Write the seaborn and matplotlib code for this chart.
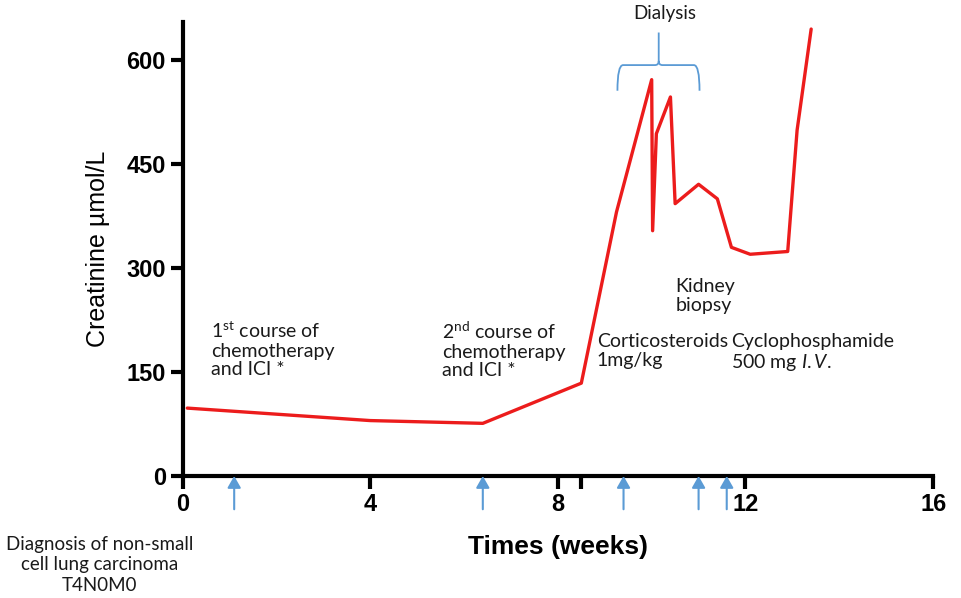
import pandas as pd
import matplotlib.pyplot as plt
import seaborn as sns
from matplotlib.path import Path
from matplotlib.patches import PathPatch

# creatinine course
weeks = [0.1, 4.0, 6.4, 8.5, 9.25, 10.0, 10.02, 10.1, 10.4, 10.5,
         11.0, 11.4, 11.7, 12.1, 12.9, 13.1, 13.4]
creatinine = [98, 80, 76, 134, 381, 572, 354, 494, 547, 393,
              421, 400, 330, 320, 324, 499, 645]

# treatment arrows on the time axis
event_weeks = [1.1, 6.4, 9.4, 11.0, 11.6]

x_ticks = [0, 4, 8, 8.5, 12, 16]
x_tick_labels = ['0', '4', '8', '', '12', '16']
y_ticks = [0, 150, 300, 450, 600]

df = pd.DataFrame({'week': weeks, 'creatinine': creatinine})

sns.set_style('ticks', {'axes.edgecolor': 'black', 'xtick.color': 'black',
                        'ytick.color': 'black', 'text.color': 'black',
                        'axes.labelcolor': 'black'})
plt.rcParams['font.family'] = ['Liberation Sans', 'DejaVu Sans']
plt.rcParams['mathtext.fontset'] = 'custom'
plt.rcParams['mathtext.rm'] = 'Lato'
plt.rcParams['mathtext.it'] = 'Lato:italic'

fig = plt.figure(figsize=(9.61, 5.98), dpi=100)
ax = fig.add_axes([0.19, 0.204, 0.781, 0.759])

sns.lineplot(data=df, x='week', y='creatinine', color='#ec1c1c', lw=2.4,
             sort=False, ax=ax)

ax.set_xlim(0, 16)
ax.set_ylim(0, 655)
ax.set_xticks(x_ticks)
ax.set_xticklabels(x_tick_labels)
ax.set_yticks(y_ticks)
for lab in ax.get_xticklabels() + ax.get_yticklabels():
    lab.set_fontweight('bold')
    lab.set_fontsize(17)
ax.tick_params(width=3, length=9, direction='out', pad=3, colors='black')
for side in ['top', 'right']:
    ax.spines[side].set_visible(False)
for side in ['left', 'bottom']:
    ax.spines[side].set_linewidth(3)

ax.set_xlabel('Times (weeks)', fontsize=19, fontweight='bold', labelpad=14)
ax.set_ylabel('Creatinine µmol/L', fontsize=18, labelpad=12)

# arrows below the axis
for w in event_weeks:
    ax.annotate('', xy=(w, 0), xytext=(w, -48), annotation_clip=False,
                arrowprops=dict(arrowstyle='-|>,head_length=0.7,head_width=0.4',
                                color='#5b9bd5', lw=1.5, shrinkA=0, shrinkB=0))

txt = dict(family='Lato', fontsize=14, color='#1a1a1a', va='top',
           linespacing=1.12)
ax.text(0.6, 224, '1$^{\\mathrm{st}}$ course of\nchemotherapy\nand ICI *', **txt)
ax.text(5.54, 224, '2$^{\\mathrm{nd}}$ course of\nchemotherapy\nand ICI *', **txt)
ax.text(8.83, 206, 'Corticosteroids\n1mg/kg', **txt)
ax.text(10.5, 286, 'Kidney\nbiopsy', **txt)
ax.text(11.7, 206, 'Cyclophosphamide\n500 mg $\\mathit{I.V.}$', **txt)
ax.text(10.28, 668, 'Dialysis', family='Lato', fontsize=13.5, color='#1a1a1a',
        ha='center', va='center', clip_on=False)
ax.text(-1.77, -86, 'Diagnosis of non-small\ncell lung carcinoma\nT4N0M0',
        family='Lato', fontsize=13.5, color='#1a1a1a', ha='center', va='top',
        linespacing=1.25, clip_on=False)

# dialysis brace
xl, xr, xc = 9.27, 11.02, 10.15
yb, yh, yt = 556, 593, 640
verts = [(xl, yb), (xl, yh), (xl + 0.12, yh), (xc - 0.08, yh),
         (xc, yh), (xc, yh + 6), (xc, yt),
         (xc, yh + 6), (xc, yh), (xc + 0.08, yh),
         (xr - 0.12, yh), (xr, yh), (xr, yb)]
codes = [Path.MOVETO, Path.CURVE3, Path.CURVE3, Path.LINETO,
         Path.CURVE3, Path.CURVE3, Path.LINETO,
         Path.MOVETO, Path.CURVE3, Path.CURVE3,
         Path.LINETO, Path.CURVE3, Path.CURVE3]
ax.add_patch(PathPatch(Path(verts, codes), fill=False, color='#5b9bd5',
                       lw=1.3, clip_on=False))

fig.savefig('out.png', dpi=100)
